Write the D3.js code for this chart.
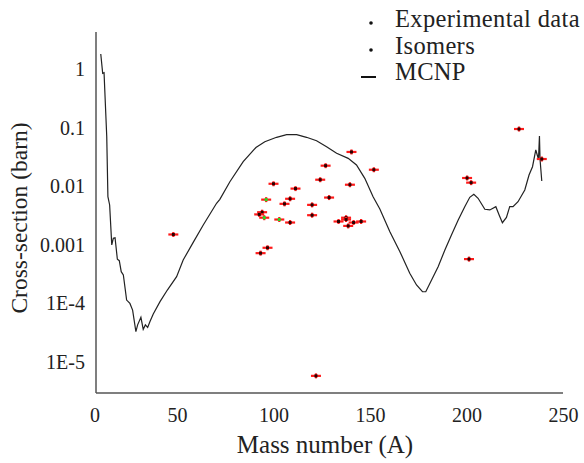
<!DOCTYPE html>
<html>
<head>
<meta charset="utf-8">
<script src="https://cdn.jsdelivr.net/npm/d3@7"></script>
<style>
  body { margin: 0; background: #fff; }
  text { font-family: "Liberation Serif", serif; fill: #222; }
</style>
</head>
<body>
<div id="chart"></div>
<script>
// MCNP calculated curve (mass number, cross-section in barn)
const mcnpA = [10.5, 11.5, 12.2, 13.6, 14.2, 15.1, 16.2, 17.0, 17.9, 19.1, 20.1, 21.1, 22.2, 23.9, 25.6, 27.0,
  28.7, 29.6, 31.3, 32.5, 33.6, 34.8, 36.0, 37.7, 41.2, 45.0, 49.8, 53.2, 58.4, 63.6, 70.5, 72.2, 77.4, 84.3,
  90.9, 95.5, 101.6, 106.8, 112.0, 117.1, 122.3, 127.5, 132.7, 138.7, 143.0, 147.3, 151.6, 155.1, 160.3,
  165.5, 170.6, 174.1, 177.2, 178.9, 181.9, 185.3, 188.8, 192.2, 195.7, 199.1, 201.7, 203.8, 206.0, 209.5,
  212.1, 215.2, 216.9, 218.6, 220.7, 222.4, 224.1, 226.7, 230.2, 232.4, 234.2, 235.9, 237.3, 237.8, 238.1, 239.0];
const mcnpXs = [1.80, 0.845, 0.865, 0.070, 0.00662, 0.00478, 0.000993, 0.00129, 0.00132, 0.000566, 0.000536,
  0.000348, 0.000305, 0.000114, 0.000100, 7.7e-5, 3.3e-5, 4.3e-5, 5.8e-5, 3.6e-5, 4.3e-5, 3.9e-5, 4.9e-5,
  6.6e-5, 1.07e-4, 1.69e-4, 2.86e-4, 5.5e-4, 0.00110, 0.00218, 0.00511, 0.00597, 0.0119, 0.0262,
  0.0457, 0.0574, 0.0683, 0.0756, 0.0756, 0.0683, 0.0597, 0.0472, 0.0364, 0.0299, 0.0230, 0.0136, 0.00662,
  0.00408, 0.00167, 0.000763, 0.000327, 0.000206, 0.000158, 0.000158, 0.000251, 0.000423, 0.000815, 0.00147,
  0.00265, 0.00447, 0.00646, 0.00728, 0.00622, 0.00404, 0.00393, 0.00447, 0.00323, 0.00238, 0.00294, 0.00447,
  0.00447, 0.00543, 0.00861, 0.0155, 0.0215, 0.0415, 0.0288, 0.0719, 0.0288, 0.0123];

// experimental data
const exptA = [48.1, 140.4, 152.0, 127.0, 100.0, 124.2, 139.6, 111.4, 128.8, 108.6, 105.7, 120.0, 94.1, 92.6,
  108.6, 120.0, 133.7, 137.6, 137.6, 141.5, 145.4, 138.7, 96.9, 93.3, 227.2, 200.3, 202.4, 201.3, 239.0, 122.0];
const exptXs = [0.0015, 0.0384, 0.0191, 0.0224, 0.011, 0.0129, 0.0106, 0.0091, 0.0064, 0.0061, 0.0050, 0.0048,
  0.0036, 0.0033, 0.0024, 0.0032, 0.0025, 0.0029, 0.0027, 0.0024, 0.0025, 0.0021, 0.00089, 0.00072, 0.0946,
  0.0138, 0.0115, 0.00057, 0.0291, 5.8e-6];

// isomers
const isoA = [96.2, 95.2, 103.0];
const isoXs = [0.0059, 0.0029, 0.0027];

const xTicks = [50, 100, 150, 200, 250];
const yTicks = [1e-5, 1e-4, 1e-3, 0.01, 0.1, 1];
const yLabels = ["1E-5", "1E-4", "0.001", "0.01", "0.1", "1"];

const legendItems = ["Experimental data", "Isomers", "MCNP"];

const width = 584, height = 463;
const svg = d3.select("#chart").append("svg")
  .attr("width", width)
  .attr("height", height);

const x = d3.scaleLinear().domain([0, 250]).range([80.5, 563]);
const y = d3.scaleLog().domain([1e-5, 1]).range([362, 69]);

const axisLeft = 96, axisBottom = 393, axisTop = 32;

// axis lines
svg.append("line")
  .attr("x1", axisLeft).attr("x2", axisLeft)
  .attr("y1", axisTop).attr("y2", axisBottom)
  .attr("stroke", "#555").attr("stroke-width", 1.5);
svg.append("line")
  .attr("x1", axisLeft).attr("x2", x(250))
  .attr("y1", axisBottom).attr("y2", axisBottom)
  .attr("stroke", "#555").attr("stroke-width", 1.5);

// x axis labels
const gx = svg.append("g")
  .attr("transform", "translate(0," + (axisBottom + 12) + ")")
  .call(d3.axisBottom(x).tickValues(xTicks).tickSize(0).tickFormat(d3.format("d")));
gx.select(".domain").remove();
gx.selectAll("text").attr("font-family", "Liberation Serif").attr("font-size", 20).attr("fill", "#222");
svg.append("text")
  .attr("x", axisLeft - 1).attr("y", axisBottom + 12 + 17)
  .attr("text-anchor", "middle")
  .attr("font-size", 20)
  .text("0");

// y axis labels
const gy = svg.append("g")
  .attr("transform", "translate(" + (axisLeft - 8) + ",0)")
  .call(d3.axisLeft(y).tickValues(yTicks).tickSize(0)
    .tickFormat((d, i) => yLabels[i]));
gy.select(".domain").remove();
gy.selectAll("text").attr("font-family", "Liberation Serif").attr("font-size", 20).attr("fill", "#222");

// axis titles
svg.append("text")
  .attr("x", 325).attr("y", 453)
  .attr("text-anchor", "middle")
  .attr("font-size", 25)
  .text("Mass number (A)");
svg.append("text")
  .attr("transform", "translate(27,218) rotate(-90)")
  .attr("text-anchor", "middle")
  .attr("font-size", 23.5)
  .text("Cross-section (barn)");

// MCNP line
const line = d3.line()
  .x((d, i) => x(mcnpA[i]))
  .y(d => y(d));
svg.append("path")
  .datum(mcnpXs)
  .attr("d", line)
  .attr("fill", "none")
  .attr("stroke", "#222")
  .attr("stroke-width", 1.2);

// data points with horizontal error bars
function drawPoints(aArr, xsArr, centre) {
  const g = svg.append("g");
  aArr.forEach((a, i) => {
    const px = x(a), py = y(xsArr[i]);
    g.append("line")
      .attr("x1", px - 5).attr("x2", px + 5)
      .attr("y1", py).attr("y2", py)
      .attr("stroke", "#ff1a1a").attr("stroke-width", 2.2);
    g.append("line")
      .attr("x1", px).attr("x2", px)
      .attr("y1", py - 2.5).attr("y2", py + 2.5)
      .attr("stroke", "#ff1a1a").attr("stroke-width", 2.2);
    g.append("rect")
      .attr("x", px - 1.5).attr("y", py - 1.5)
      .attr("width", 3).attr("height", 3)
      .attr("fill", centre);
  });
}
drawPoints(exptA, exptXs, "#2a0000");
drawPoints(isoA, isoXs, "#22dd22");

// legend
const legend = svg.append("g");
legendItems.forEach((name, i) => {
  const ly = 23 + i * 27;
  if (i < 2) {
    legend.append("circle")
      .attr("cx", 371).attr("cy", ly).attr("r", 1.8)
      .attr("fill", "#111");
  } else {
    legend.append("line")
      .attr("x1", 361).attr("x2", 376)
      .attr("y1", ly).attr("y2", ly)
      .attr("stroke", "#111").attr("stroke-width", 2);
  }
  legend.append("text")
    .attr("x", 395).attr("y", 27 + i * 26.5)
    .attr("font-size", 24.5)
    .attr("letter-spacing", 0.35)
    .text(name);
});
</script>
</body>
</html>
